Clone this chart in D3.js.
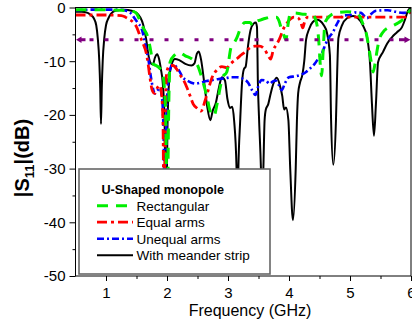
<!DOCTYPE html>
<html><head>
<meta charset="utf-8">
<title>S11 U-shaped monopole</title>
<script src="https://d3js.org/d3.v7.min.js"></script>
<style>
  body { margin: 0; background: #fff; }
  svg text { font-family: "Liberation Sans", Arial, sans-serif; fill: #000; }
</style>
</head>
<body>
<svg id="chart" width="412" height="326"></svg>
<script>
// values: [frequency GHz, |S11| dB]
const rectangular = [[0.5,-0.4],[0.8,-0.4],[1.2,-0.5],[1.4,-0.6],[1.49,-1.0],[1.56,-2.5],[1.61,-3.8],[1.69,-5.7],[1.74,-8.5],[1.77,-10.5],[1.82,-10.8],[1.87,-11.2],[1.92,-12],[1.95,-14],[1.98,-21],[2.005,-40],[2.025,-21],[2.05,-10.2],[2.13,-8.8],[2.2,-8.4],[2.3,-9],[2.43,-9.8],[2.51,-11],[2.59,-13.9],[2.66,-16.9],[2.7,-19],[2.77,-20.2],[2.82,-18],[2.87,-15],[2.91,-13],[2.98,-12],[3.05,-7.4],[3.11,-6.4],[3.15,-5.5],[3.2,-4],[3.28,-2.8],[3.36,-2.8],[3.41,-3.4],[3.47,-2.6],[3.54,-2.3],[3.62,-2.0],[3.7,-1.8],[3.79,-1.8],[3.84,-2.6],[3.87,-3.8],[3.91,-5],[3.95,-6],[3.98,-3.5],[4.02,-1.2],[4.1,-1.0],[4.2,-1.2],[4.3,-1.3],[4.39,-1.4],[4.46,-3.3],[4.49,-6.5],[4.515,-11],[4.535,-12.7],[4.56,-8],[4.59,-2.9],[4.62,-2.2],[4.7,-1.3],[4.82,-0.9],[4.95,-0.8],[5.08,-1.0],[5.15,-1.5],[5.21,-3],[5.27,-5],[5.31,-7.5],[5.35,-10.3],[5.38,-12],[5.41,-10.5],[5.44,-8.3],[5.47,-6.4],[5.54,-4.6],[5.62,-3.8],[5.72,-3.3],[5.8,-2.8],[5.87,-2.2],[5.95,-1.0],[6.0,-0.4]];

const equalArms = [[0.5,-1.4],[1.0,-1.4],[1.25,-1.5],[1.32,-1.8],[1.38,-2.2],[1.45,-2.8],[1.5,-3.6],[1.57,-5.7],[1.61,-6.8],[1.66,-8.5],[1.69,-10.5],[1.72,-13],[1.76,-15.5],[1.8,-16],[1.84,-15],[1.88,-14.5],[1.91,-16],[1.935,-22],[1.95,-40],[1.97,-22],[1.995,-12],[2.05,-10.8],[2.1,-10.8],[2.16,-11.5],[2.21,-12.5],[2.27,-13.5],[2.33,-15],[2.38,-16.5],[2.43,-18],[2.5,-18.8],[2.56,-19.3],[2.62,-17.5],[2.67,-15.6],[2.74,-13],[2.82,-11.6],[2.9,-11],[2.98,-11.2],[3.05,-10.4],[3.15,-9.5],[3.22,-8.8],[3.28,-8.3],[3.36,-7.5],[3.44,-7.2],[3.52,-7.2],[3.6,-7.8],[3.66,-9],[3.7,-9.6],[3.74,-8],[3.8,-6.8],[3.85,-5.7],[3.9,-4.2],[3.96,-3],[4.02,-2.2],[4.08,-1.8],[4.14,-1.9],[4.19,-2.6],[4.225,-3.8],[4.26,-2.5],[4.31,-1.8],[4.6,-1.8],[5.0,-1.8],[5.5,-1.8],[5.9,-1.8],[5.95,-1.3],[6.0,-0.7]];

const unequalArms = [[0.5,-0.5],[0.8,-0.4],[1.2,-0.4],[1.33,-0.6],[1.4,-1.0],[1.48,-2.2],[1.53,-3],[1.58,-3.8],[1.62,-5.5],[1.66,-7.8],[1.7,-10],[1.73,-12.5],[1.76,-14.5],[1.8,-16],[1.84,-15.5],[1.88,-15],[1.92,-17],[1.945,-24],[1.965,-40],[1.985,-24],[2.01,-15],[2.05,-11.5],[2.1,-10.6],[2.15,-11],[2.2,-11.8],[2.26,-13],[2.33,-13.6],[2.4,-14],[2.47,-14.2],[2.55,-14],[2.65,-13.7],[2.75,-13.5],[2.85,-13.3],[2.95,-13.2],[3.05,-13],[3.15,-13],[3.25,-13.3],[3.33,-14],[3.4,-15.5],[3.45,-16.3],[3.5,-14.5],[3.55,-13.5],[3.62,-13.6],[3.68,-14.2],[3.73,-13.8],[3.78,-13.6],[3.84,-14.6],[3.88,-15.4],[3.93,-14.2],[4.0,-13],[4.1,-12.8],[4.2,-12.5],[4.28,-12],[4.35,-11.3],[4.42,-10.5],[4.48,-9.5],[4.54,-8.5],[4.6,-6.8],[4.66,-5.5],[4.72,-4.6],[4.78,-3.2],[4.84,-2],[4.9,-1.5],[5.0,-1.4],[5.1,-0.9],[5.18,-1.0],[5.28,-2.0],[5.33,-1.4],[5.43,-0.6],[5.62,-0.5],[5.75,-0.8],[5.87,-1.0],[6.0,-0.5]];

const meanderStrip = [[0.5,-0.8],[0.6,-0.8],[0.7,-1.0],[0.75,-1.4],[0.8,-2.0],[0.84,-3.3],[0.865,-5.7],[0.89,-10],[0.905,-15],[0.918,-21.7],[0.931,-15],[0.946,-10],[0.972,-5.7],[1.0,-3.3],[1.04,-2.0],[1.08,-1.2],[1.15,-0.6],[1.3,-0.4],[1.42,-0.6],[1.5,-1.0],[1.56,-1.8],[1.61,-3.2],[1.66,-6],[1.69,-8.5],[1.73,-10.3],[1.77,-10.6],[1.8,-9.4],[1.84,-8.7],[1.87,-9.6],[1.9,-11.5],[1.93,-14],[1.96,-21],[1.985,-40],[2.01,-21],[2.04,-13],[2.08,-10.5],[2.13,-9.6],[2.2,-9.8],[2.3,-10.5],[2.4,-10.8],[2.45,-10.4],[2.49,-8.6],[2.52,-8.2],[2.56,-9.8],[2.61,-14],[2.66,-18.5],[2.71,-21],[2.75,-19.2],[2.8,-17.8],[2.85,-15],[2.9,-13],[2.95,-13.6],[2.99,-17],[3.03,-18.7],[3.07,-18.5],[3.1,-21],[3.14,-30],[3.155,-40],[3.17,-30],[3.2,-21],[3.23,-14],[3.26,-11.5],[3.29,-11],[3.33,-7],[3.37,-4.2],[3.42,-3.0],[3.455,-2.8],[3.475,-3.6],[3.49,-14],[3.51,-21],[3.54,-30],[3.56,-40],[3.58,-30],[3.6,-21],[3.62,-19],[3.66,-18],[3.7,-16],[3.75,-14],[3.8,-13.1],[3.85,-14.5],[3.89,-16.5],[3.92,-19],[3.95,-18.6],[3.99,-21],[4.02,-30],[4.065,-39.6],[4.11,-30],[4.13,-21],[4.15,-16],[4.18,-14],[4.22,-12.5],[4.25,-10],[4.28,-6],[4.33,-4],[4.39,-2.7],[4.46,-2.3],[4.51,-2.5],[4.57,-3.3],[4.62,-4.6],[4.67,-8.8],[4.69,-21],[4.726,-29.3],[4.77,-21],[4.79,-12],[4.81,-5.7],[4.87,-3.3],[4.95,-2],[5.05,-1.6],[5.13,-2],[5.21,-3.3],[5.28,-5.5],[5.33,-10.7],[5.36,-18],[5.393,-23.9],[5.425,-18],[5.46,-10.2],[5.54,-8.3],[5.61,-6.7],[5.69,-5.5],[5.77,-4.6],[5.85,-3.7],[5.9,-2.3],[5.95,-0.6],[6.0,0]];

const refLevel = -6;            // purple dotted line
const xTicks = [1, 2, 3, 4, 5, 6];
const xMinor = [1.5, 2.5, 3.5, 4.5, 5.5];
const yTicks = [0, -10, -20, -30, -40, -50];
const yMinor = [-5, -15, -25, -35, -45];
const legendNames = ["Rectangular", "Equal arms", "Unequal arms", "With meander strip"];

let svg = d3.select("svg#chart");
let pLeft = 75.5, pRight = 411, pTop = 7.5, pBottom = 276;

let x = d3.scaleLinear().domain([0.5, 6]).range([pLeft, pRight]);
let y = d3.scaleLinear().domain([-50, 0]).range([pBottom, pTop]);

// series styles (drawn black first so dashed ones sit on top)
let series = [
  { name: legendNames[3], data: meanderStrip, color: "#000", width: 2, dash: null },
  { name: legendNames[2], data: unequalArms, color: "#0000ff", width: 2.6, dash: "7,3,2,3" },
  { name: legendNames[1], data: equalArms, color: "#ff0000", width: 2.8, dash: "10,4,3,4" },
  { name: legendNames[0], data: rectangular, color: "#00ee00", width: 3, dash: "11,8" }
];

svg.append("clipPath").attr("id", "plotclip")
  .append("rect").attr("x", pLeft).attr("y", pTop - 1).attr("width", pRight - pLeft).attr("height", pBottom - pTop + 1);

let line = d3.line().x(d => x(d[0])).y(d => y(d[1])).curve(d3.curveMonotoneX);

let plot = svg.append("g").attr("clip-path", "url(#plotclip)");
series.forEach(s => {
  plot.append("path")
    .attr("d", line(s.data))
    .attr("fill", "none")
    .attr("stroke", s.color)
    .attr("stroke-width", s.width)
    .attr("stroke-dasharray", s.dash)
    .attr("stroke-linejoin", "round");
});

// purple -6 dB reference with arrows at both ends
let yr = y(refLevel);
svg.append("line")
  .attr("x1", x(0.5) + 8).attr("x2", x(6) - 10).attr("y1", yr).attr("y2", yr)
  .attr("stroke", "#800080").attr("stroke-width", 3)
  .attr("stroke-dasharray", "4,11").attr("stroke-dashoffset", -6);
svg.append("path")
  .attr("d", "M" + (x(0.5) + 0.5) + "," + yr + "L" + (x(0.5) + 6) + "," + (yr - 3.2) + "L" + (x(0.5) + 6) + "," + (yr + 3.2) + "Z")
  .attr("fill", "#800080");
svg.append("line").attr("x1", x(0.5) + 5).attr("x2", x(0.5) + 10).attr("y1", yr).attr("y2", yr)
  .attr("stroke", "#800080").attr("stroke-width", 3);
svg.append("path")
  .attr("d", "M" + (x(6) - 0.5) + "," + yr + "L" + (x(6) - 6.5) + "," + (yr - 3.2) + "L" + (x(6) - 6.5) + "," + (yr + 3.2) + "Z")
  .attr("fill", "#800080");
svg.append("line").attr("x1", x(6) - 12).attr("x2", x(6) - 6).attr("y1", yr).attr("y2", yr)
  .attr("stroke", "#800080").attr("stroke-width", 3);

// frame
svg.append("rect")
  .attr("x", pLeft).attr("y", pTop).attr("width", pRight - pLeft).attr("height", pBottom - pTop)
  .attr("fill", "none").attr("stroke", "#000").attr("stroke-width", 1);

// axes
svg.append("g").attr("transform", "translate(" + pLeft + ",0)")
  .call(d3.axisLeft(y).tickValues(yTicks).tickSize(6).tickPadding(4).tickFormat(d => String(d)));
svg.append("g").attr("transform", "translate(" + pLeft + ",0)")
  .call(d3.axisLeft(y).tickValues(yMinor).tickSize(3).tickFormat(""));
svg.append("g").attr("transform", "translate(0," + pBottom + ")")
  .call(d3.axisBottom(x).tickValues(xTicks).tickSize(5).tickPadding(6).tickFormat(d => String(d)));
svg.append("g").attr("transform", "translate(0," + pBottom + ")")
  .call(d3.axisBottom(x).tickValues(xMinor).tickSize(3).tickFormat(""));
svg.selectAll(".domain").remove();
svg.selectAll(".tick text").attr("font-size", 15).attr("font-family", "Liberation Sans, Arial, sans-serif");

// axis titles
svg.append("text")
  .attr("x", 250).attr("y", 316)
  .attr("text-anchor", "middle").attr("font-size", 16)
  .text("Frequency (GHz)");

let ylab = svg.append("text")
  .attr("transform", "translate(29,158) rotate(-90)")
  .attr("text-anchor", "middle").attr("font-size", 20).attr("font-weight", "bold");
ylab.append("tspan").text("|S");
ylab.append("tspan").attr("font-size", 13).attr("dy", 5).text("11");
ylab.append("tspan").attr("dy", -5).text("|(dB)");

// legend
let lg = svg.append("g");
lg.append("rect")
  .attr("x", 79).attr("y", 169).attr("width", 191).attr("height", 105)
  .attr("fill", "#fff").attr("stroke", "#666").attr("stroke-width", 1.6);
lg.append("text").attr("x", 101.5).attr("y", 193.5)
  .attr("font-size", 12.6).attr("font-weight", "bold").text("U-Shaped monopole");
let order = [3, 2, 1, 0];   // legend lists rectangular first
order.forEach((si, i) => {
  let s = series[si];
  let cy = 205.7 + i * 16.5;
  lg.append("line")
    .attr("x1", 97).attr("x2", 133).attr("y1", cy).attr("y2", cy)
    .attr("stroke", s.color).attr("stroke-width", s.width).attr("stroke-dasharray", s.dash);
  lg.append("text").attr("x", 136.5).attr("y", cy + 5)
    .attr("font-size", 13.5).text(s.name);
});
</script>
</body>
</html>
